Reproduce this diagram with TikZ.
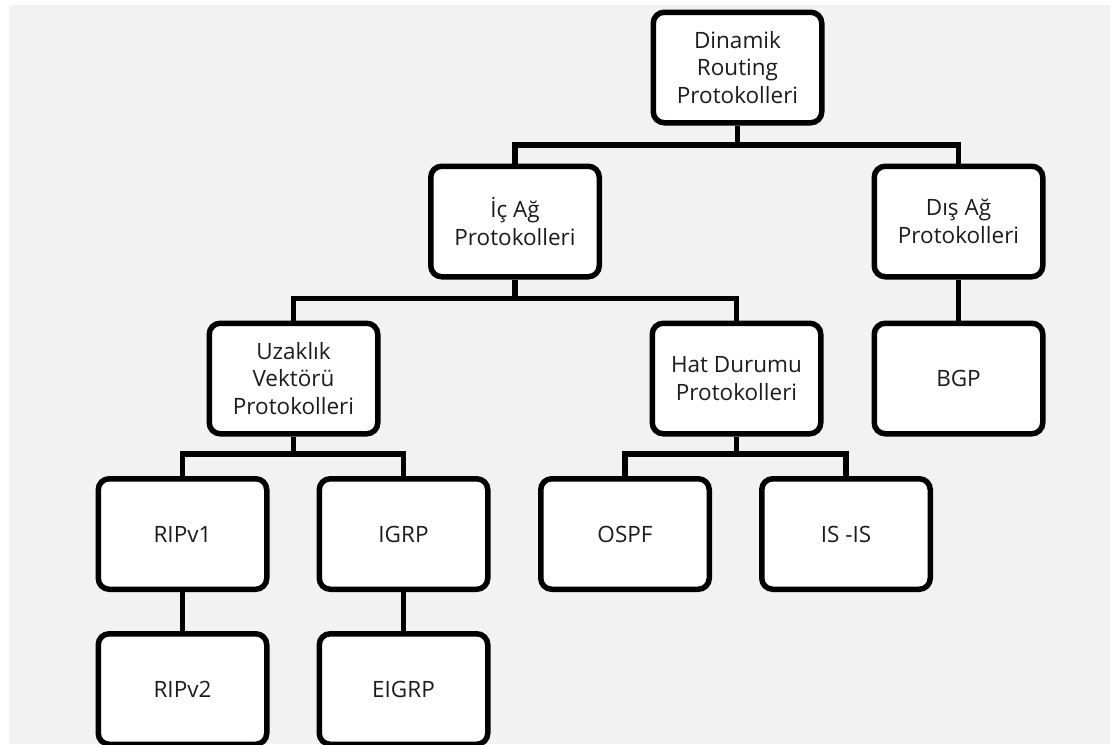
\documentclass[tikz,border=0pt]{standalone}
\usepackage{fontspec}
\setmainfont{Open Sans}
\definecolor{paper}{HTML}{F2F2F2}
\definecolor{ink}{HTML}{1C1C1C}
\begin{document}
\begin{tikzpicture}[x=1pt,y=-1pt,
  protobox/.style={draw=black, fill=white, line width=5.5pt, rounded corners=11pt,
    minimum width=168.5pt, minimum height=110.5pt, inner sep=0pt,
    align=center, text=ink, font=\fontsize{22.5}{27.5}\selectfont},
  link/.style={draw=black, line width=5.5pt}]
  % page and grey panel
  \fill[white] (0,0) rectangle (1110,744);
  \fill[paper] (9,5) rectangle (1110,744);
  \useasboundingbox (0,0) rectangle (1110,744);
  \begin{scope}
  \clip (0,0) rectangle (1110,744);
  % level 1
  \node[protobox] (dyn) at (737.5,67.5) {Dinamik\\Routing\\Protokolleri};
  % level 2
  \node[protobox] (ic)  at (515,221.5) {İç Ağ\\Protokolleri};
  \node[protobox] (dis) at (958.5,221.5) {Dış Ağ\\Protokolleri};
  % level 3
  \node[protobox] (uz)  at (293.5,378.5) {Uzaklık\\Vektörü\\Protokolleri};
  \node[protobox] (hat) at (736.5,378.5) {Hat Durumu\\Protokolleri};
  \node[protobox] (bgp) at (958.5,378.5) {BGP};
  % level 4
  \node[protobox] (rip1) at (182.5,534) {RIPv1};
  \node[protobox] (igrp) at (403.5,534) {IGRP};
  \node[protobox] (ospf) at (625,534) {OSPF};
  \node[protobox] (isis) at (846,534) {IS -IS};
  % level 5
  \node[protobox] (rip2)  at (182.5,689) {RIPv2};
  \node[protobox] (eigrp) at (403.5,689) {EIGRP};
  % connectors
  \draw[link] (dyn.south) -- ++(0,19.5);
  \draw[link] (ic.north) -- ++(0,-18.5) -| (dis.north);
  \draw[link] (ic.south) -- ++(0,20);
  \draw[link] (uz.north) -- ++(0,-22) -| (hat.north);
  \draw[link] (dis.south) -- (bgp.north);
  \draw[link] (uz.south) -- ++(0,20);
  \draw[link] (rip1.north) -- ++(0,-22) -| (igrp.north);
  \draw[link] (hat.south) -- ++(0,20);
  \draw[link] (ospf.north) -- ++(0,-22) -| (isis.north);
  \draw[link] (rip1.south) -- (rip2.north);
  \draw[link] (igrp.south) -- (eigrp.north);
  \end{scope}
\end{tikzpicture}
\end{document}
